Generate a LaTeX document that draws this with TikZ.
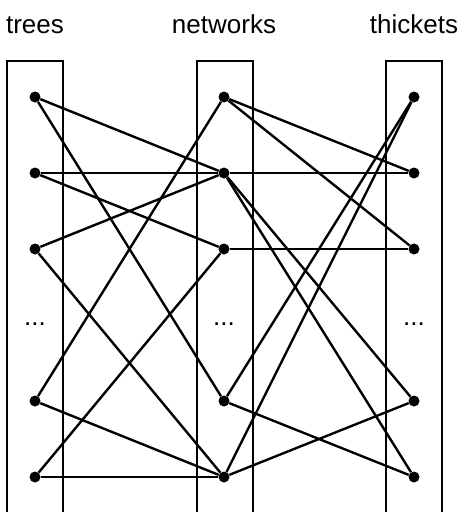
\documentclass[tikz,border=0pt]{standalone}
\usepackage{fontspec}
\setmainfont{Liberation Sans}
\usepackage{tikz}

\begin{document}
\begin{tikzpicture}[x=1pt, y=-1pt,
  dot/.style={circle, fill=black, inner sep=0pt, minimum size=11pt},
  col/.style={line width=1.4pt},
  edge/.style={line width=2.4pt},
  head/.style={anchor=base, font=\fontsize{26}{30}\selectfont}]
  \useasboundingbox (0,0) rectangle (457,512);

  % column frames, open at the bottom
  \draw[col] (7,512)   |- (63,61)  -- (63,512);
  \draw[col] (197,512) |- (253,61) -- (253,512);
  \draw[col] (386,512) |- (442,61) -- (442,512);

  \node[head] (trees)    at (35,33)  {trees};
  \node[head] (networks) at (224,33) {networks};
  \node[head] (thickets) at (414,33) {thickets};

  \foreach \y [count=\i] in {97,173,249,401,477} {
    \node[dot] (t\i) at (35,\y)  {};
    \node[dot] (n\i) at (224,\y) {};
    \node[dot] (k\i) at (414,\y) {};
  }
  \node[head] (tdots) at (35,325)  {...};
  \node[head] (ndots) at (224,325) {...};
  \node[head] (kdots) at (414,325) {...};

  % trees -- networks
  \draw[edge] (t1) -- (n2);
  \draw[edge] (t1) -- (n4);
  \draw[edge] (t2) -- (n2);
  \draw[edge] (t2) -- (n3);
  \draw[edge] (t3) -- (n2);
  \draw[edge] (t3) -- (n5);
  \draw[edge] (t4) -- (n1);
  \draw[edge] (t4) -- (n5);
  \draw[edge] (t5) -- (n5);
  \draw[edge] (t5) -- (n3);
  % networks -- thickets
  \draw[edge] (n1) -- (k2);
  \draw[edge] (n1) -- (k3);
  \draw[edge] (n2) -- (k2);
  \draw[edge] (n2) -- (k4);
  \draw[edge] (n2) -- (k5);
  \draw[edge] (n3) -- (k3);
  \draw[edge] (n4) -- (k1);
  \draw[edge] (n4) -- (k5);
  \draw[edge] (n5) -- (k1);
  \draw[edge] (n5) -- (k4);
\end{tikzpicture}
\end{document}
